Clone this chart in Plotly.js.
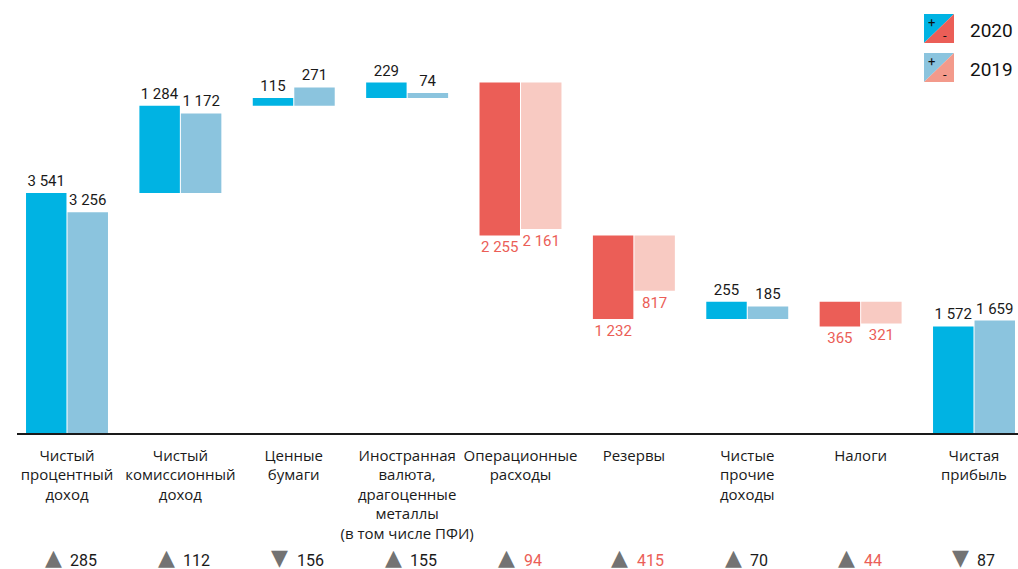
<!DOCTYPE html>
<html><head><meta charset="utf-8">
<script src="https://cdn.plot.ly/plotly-3.0.1.min.js"></script>
<style>html,body{margin:0;padding:0;background:#fff}#chart{width:1018px;height:569px}</style>
</head><body><div id="chart"></div>
<script>
const categories = [
  'Чистый<br>процентный<br>доход',
  'Чистый<br>комиссионный<br>доход',
  'Ценные<br>бумаги',
  'Иностранная<br>валюта,<br>драгоценные<br>металлы<br>(в том числе ПФИ)',
  'Операционные<br>расходы',
  'Резервы',
  'Чистые<br>прочие<br>доходы',
  'Налоги',
  'Чистая<br>прибыль'
];
const values2020 = [3541, 1284, 115, 229, -2255, -1232, 255, -365, 1572];
const values2019 = [3256, 1172, 271, 74, -2161, -817, 185, -321, 1659];
const isTotal = [false, false, false, false, false, false, false, false, true];
const changeValues = [285, 112, -156, 155, 94, 415, 70, 44, -87];
const seriesNames = ['2020', '2019'];

const C = {
  pos2020: '#00B3E3', neg2020: '#EB5E57',
  pos2019: '#8BC4DE', neg2019: '#F8CAC2',
  legNeg2019: '#F39A8B',
  text: '#1a1a1a', negText: '#EB5E57', arrow: '#737373'
};

function fmt(v) { return Math.abs(v).toString().replace(/\B(?=(\d{3})+(?!\d))/g, ' '); }

// both series are stacked on the running total of the 2020 series (as in the original)
const runBase = [];
(function () {
  let run = 0;
  values2020.forEach((v, i) => {
    if (isTotal[i]) { runBase.push(0); run = v; }
    else { runBase.push(run); run += v; }
  });
})();

function buildTrace(vals, name, posColor, negColor) {
  const base = [], y = [], col = [], tcol = [], txt = [];
  vals.forEach((v, i) => {
    base.push(runBase[i]); y.push(v);
    const neg = !isTotal[i] && v < 0;
    col.push(neg ? negColor : posColor);
    tcol.push(neg ? C.negText : C.text);
    txt.push(fmt(v));
  });
  return {
    type: 'bar', x: categories.map((_, i) => i), y: y, base: base,
    name: name, offsetgroup: name,
    marker: {color: col, line: {width: 0}},
    text: txt, textposition: 'outside', constraintext: 'none',
    textfont: {family: 'Roboto', size: 15, color: tcol},
    cliponaxis: false, hoverinfo: 'skip'
  };
}

const traces = [
  buildTrace(values2020, seriesNames[0], C.pos2020, C.neg2020),
  buildTrace(values2019, seriesNames[1], C.pos2019, C.neg2019)
];

// pixel -> paper helpers (plot area: x 17..1018, y 20..433)
const PL = 17, PW = 1001, PB = 433, PH = 413;
const px = p => (p - PL) / PW;
const py = p => (PB - p) / PH;

const annotations = [];
changeValues.forEach((v, i) => {
  const numColor = (!isTotal[i] && values2020[i] < 0) ? C.negText : C.text;
  annotations.push({
    x: i, xref: 'x', y: py(557), yref: 'paper', yanchor: 'middle', xanchor: 'center',
    xshift: -14, showarrow: false, borderpad: 0,
    text: v >= 0 ? '▲' : '▼',
    font: {family: 'DejaVu Sans', size: 22, color: C.arrow}
  });
  annotations.push({
    x: i, xref: 'x', y: py(560), yref: 'paper', yanchor: 'middle', xanchor: 'left',
    xshift: 2, showarrow: false, borderpad: 0,
    text: String(Math.abs(v)),
    font: {family: 'Roboto', size: 16, color: numColor}
  });
});

// custom legend
const legendItems = [
  {name: seriesNames[0], top: 14, pos: C.pos2020, neg: C.neg2020},
  {name: seriesNames[1], top: 53, pos: C.pos2019, neg: C.legNeg2019}
];
const shapes = [];
legendItems.forEach(it => {
  const x0 = px(924), x1 = px(954), y0 = py(it.top), y1 = py(it.top + 29);
  shapes.push({type: 'path', xref: 'paper', yref: 'paper', line: {width: 0}, fillcolor: it.pos,
    path: `M${x0},${y0} L${x1},${y0} L${x0},${y1} Z`});
  shapes.push({type: 'path', xref: 'paper', yref: 'paper', line: {width: 0}, fillcolor: it.neg,
    path: `M${x1},${y0} L${x1},${y1} L${x0},${y1} Z`});
  annotations.push({xref: 'paper', yref: 'paper', x: px(931), y: py(it.top + 8), showarrow: false,
    text: '+', font: {family: 'Roboto', size: 13, color: '#111'}, xanchor: 'center', yanchor: 'middle'});
  annotations.push({xref: 'paper', yref: 'paper', x: px(945), y: py(it.top + 22), showarrow: false,
    text: '-', font: {family: 'Roboto', size: 13, color: '#111'}, xanchor: 'center', yanchor: 'middle'});
  annotations.push({xref: 'paper', yref: 'paper', x: px(968), y: py(it.top + 16), showarrow: false,
    text: it.name, font: {family: 'Roboto', size: 19, color: '#111'}, xanchor: 'left', yanchor: 'middle'});
});

const layout = {
  width: 1018, height: 569,
  margin: {l: PL, r: 0, t: 20, b: 136},
  paper_bgcolor: '#fff', plot_bgcolor: '#fff',
  barmode: 'group', bargap: 0.268, bargroupgap: 0.025,
  showlegend: false,
  xaxis: {
    range: [-0.441, 8.388], tickvals: categories.map((_, i) => i), ticktext: categories,
    tickangle: 0, tickfont: {family: 'Open Sans', size: 15, color: C.text},
    showline: true, linecolor: '#1a1a1a', linewidth: 1.5,
    ticks: 'outside', ticklen: 8, tickcolor: 'rgba(0,0,0,0)',
    showgrid: false, zeroline: false, fixedrange: true
  },
  yaxis: {range: [0, 6091], visible: false, showgrid: false, zeroline: false, fixedrange: true},
  shapes: shapes,
  annotations: annotations
};

Plotly.newPlot('chart', traces, layout, {displayModeBar: false, staticPlot: true});
</script>
</body></html>
